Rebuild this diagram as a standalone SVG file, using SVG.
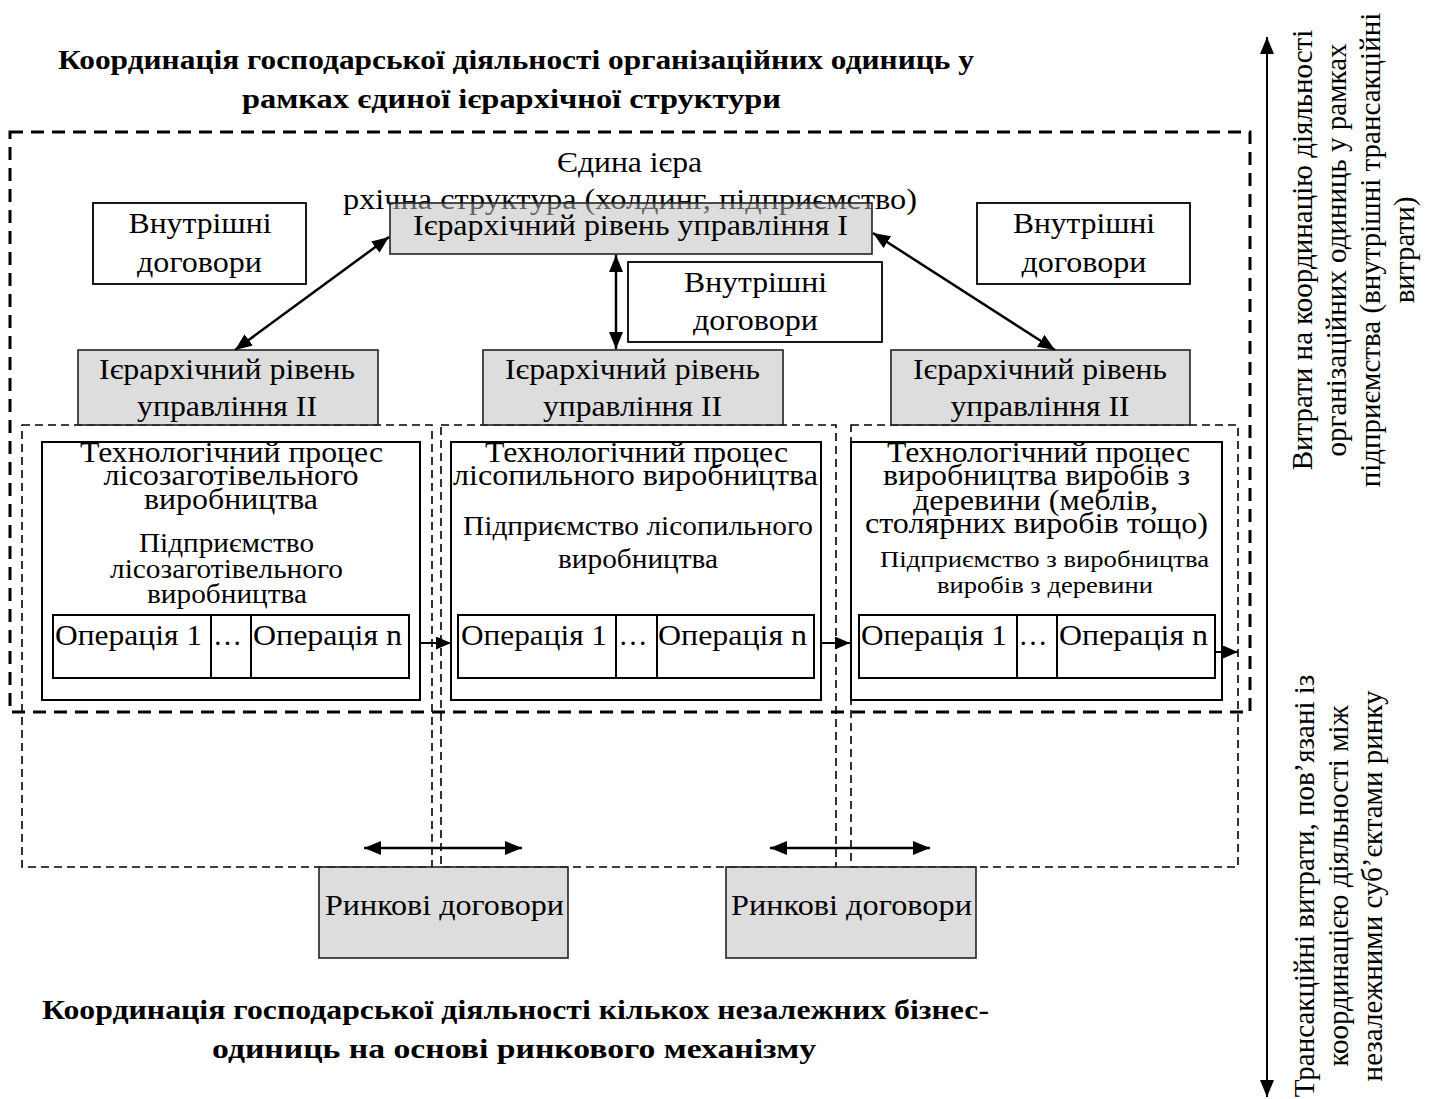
<svg xmlns="http://www.w3.org/2000/svg" width="1437" height="1099" viewBox="0 0 1437 1099">
  <style>
    text { font-family: "Liberation Serif", "Times New Roman", serif; fill: #000; text-anchor: middle; }
    .t { font-size: 29px; }
    .s { font-size: 26.5px; }
    .xs { font-size: 24px; }
    .h { font-size: 28px; font-weight: bold; }
    .box { fill: #fff; stroke: #000; stroke-width: 1.8; }
    .grey { fill: #bcbcbc; fill-opacity: 0.5; stroke: #222; stroke-width: 1.6; }
    .proc { fill: none; stroke: #000; stroke-width: 2; }
    .zone { fill: none; stroke: #000; stroke-width: 3; stroke-dasharray: 13 8; }
    .unit { fill: none; stroke: #000; stroke-width: 1.6; stroke-dasharray: 8 5; }
    .link { stroke: #000; stroke-width: 2.5; fill: none; }
    .flow { stroke: #000; stroke-width: 2; fill: none; }
  </style>
  <defs>
    <marker id="head" markerUnits="userSpaceOnUse" markerWidth="18" markerHeight="14" refX="17" refY="7" orient="auto-start-reverse">
      <path d="M0,0 L17,7 L0,14 z" fill="#000"/>
    </marker>
    <marker id="small" markerUnits="userSpaceOnUse" markerWidth="16" markerHeight="13" refX="15" refY="6.5" orient="auto">
      <path d="M0,0 L15,6.5 L0,13 z" fill="#000"/>
    </marker>
  </defs>

  <!-- headings -->
  <g id="heading-top">
    <text class="h" x="516" y="69" textLength="916" lengthAdjust="spacingAndGlyphs">Координація господарської діяльності організаційних одиниць у</text>
    <text class="h" x="511.5" y="108" textLength="539" lengthAdjust="spacingAndGlyphs">рамках єдиної ієрархічної структури</text>
  </g>
  <g id="heading-bottom">
    <text class="h" x="515.5" y="1019" textLength="947" lengthAdjust="spacingAndGlyphs">Координація господарської діяльності кількох незалежних бізнес-</text>
    <text class="h" x="514" y="1058" textLength="604" lengthAdjust="spacingAndGlyphs">одиниць на основі ринкового механізму</text>
  </g>

  <!-- hierarchy boundary and enterprise zones -->
  <g id="hierarchy-zone">
    <rect class="zone" x="10" y="132" width="1240" height="580"/>
    <text class="t" x="629.5" y="172" textLength="145" lengthAdjust="spacingAndGlyphs">Єдина ієра</text>
    <text class="t" x="630" y="209" textLength="574" lengthAdjust="spacingAndGlyphs">рхічна структура (холдинг, підприємство)</text>
  </g>
  <g id="enterprise-zones">
    <rect class="unit" x="22" y="425" width="410" height="442"/>
    <rect class="unit" x="441" y="425" width="395" height="442"/>
    <rect class="unit" x="851" y="425" width="387" height="442"/>
  </g>

  <!-- management level I -->
  <g id="level-1">
    <rect class="grey" x="390" y="203" width="482" height="51"/>
    <text class="t" x="630.5" y="235" textLength="435" lengthAdjust="spacingAndGlyphs">Ієрархічний рівень управління I</text>
  </g>

  <!-- internal contracts -->
  <g id="internal-left">
    <rect class="box" x="93" y="203" width="213" height="81"/>
    <text class="t" x="200" y="233" textLength="143" lengthAdjust="spacingAndGlyphs">Внутрішні</text>
    <text class="t" x="199.5" y="272" textLength="125" lengthAdjust="spacingAndGlyphs">договори</text>
  </g>
  <g id="internal-middle">
    <rect class="box" x="628" y="262" width="254" height="80"/>
    <text class="t" x="755.5" y="292" textLength="143" lengthAdjust="spacingAndGlyphs">Внутрішні</text>
    <text class="t" x="755.5" y="330" textLength="125" lengthAdjust="spacingAndGlyphs">договори</text>
  </g>
  <g id="internal-right">
    <rect class="box" x="977" y="203" width="213" height="81"/>
    <text class="t" x="1084" y="233" textLength="142" lengthAdjust="spacingAndGlyphs">Внутрішні</text>
    <text class="t" x="1084" y="272" textLength="125" lengthAdjust="spacingAndGlyphs">договори</text>
  </g>

  <!-- management level II -->
  <g id="level-2-left">
    <rect class="grey" x="78" y="350" width="300" height="75"/>
    <text class="t" x="227" y="379" textLength="256" lengthAdjust="spacingAndGlyphs">Ієрархічний рівень</text>
    <text class="t" x="227" y="416" textLength="180" lengthAdjust="spacingAndGlyphs">управління II</text>
  </g>
  <g id="level-2-middle">
    <rect class="grey" x="483" y="350" width="300" height="75"/>
    <text class="t" x="632.5" y="379" textLength="255" lengthAdjust="spacingAndGlyphs">Ієрархічний рівень</text>
    <text class="t" x="632.5" y="416" textLength="179" lengthAdjust="spacingAndGlyphs">управління II</text>
  </g>
  <g id="level-2-right">
    <rect class="grey" x="891" y="350" width="299" height="75"/>
    <text class="t" x="1040" y="379" textLength="254" lengthAdjust="spacingAndGlyphs">Ієрархічний рівень</text>
    <text class="t" x="1040" y="416" textLength="179" lengthAdjust="spacingAndGlyphs">управління II</text>
  </g>

  <!-- technological processes -->
  <g id="process-logging">
    <rect class="proc" x="42" y="442" width="378" height="258"/>
    <text class="t" x="231.5" y="462" textLength="303" lengthAdjust="spacingAndGlyphs">Технологічний процес</text>
    <text class="t" x="231" y="485" textLength="255" lengthAdjust="spacingAndGlyphs">лісозаготівельного</text>
    <text class="t" x="231" y="509" textLength="174" lengthAdjust="spacingAndGlyphs">виробництва</text>
    <text class="s" x="226.5" y="552" textLength="175" lengthAdjust="spacingAndGlyphs">Підприємство</text>
    <text class="s" x="226.5" y="578" textLength="233" lengthAdjust="spacingAndGlyphs">лісозаготівельного</text>
    <text class="s" x="227" y="603" textLength="160" lengthAdjust="spacingAndGlyphs">виробництва</text>
    <rect class="proc" x="53" y="615" width="356" height="63"/>
    <line class="proc" x1="211" y1="615" x2="211" y2="678"/>
    <line class="proc" x1="251" y1="615" x2="251" y2="678"/>
    <text class="t" x="128.5" y="645" textLength="147" lengthAdjust="spacingAndGlyphs">Операція 1</text>
    <text class="t" x="227.5" y="645">…</text>
    <text class="t" x="327.5" y="645" textLength="149" lengthAdjust="spacingAndGlyphs">Операція n</text>
  </g>
  <g id="process-sawmill">
    <rect class="proc" x="451" y="442" width="370" height="258"/>
    <text class="t" x="636.5" y="462" textLength="303" lengthAdjust="spacingAndGlyphs">Технологічний процес</text>
    <text class="t" x="635.5" y="485" textLength="365" lengthAdjust="spacingAndGlyphs">лісопильного виробництва</text>
    <text class="s" x="638" y="535" textLength="350" lengthAdjust="spacingAndGlyphs">Підприємство лісопильного</text>
    <text class="s" x="638" y="568" textLength="160" lengthAdjust="spacingAndGlyphs">виробництва</text>
    <rect class="proc" x="458" y="615" width="356" height="63"/>
    <line class="proc" x1="616" y1="615" x2="616" y2="678"/>
    <line class="proc" x1="657" y1="615" x2="657" y2="678"/>
    <text class="t" x="534" y="645" textLength="146" lengthAdjust="spacingAndGlyphs">Операція 1</text>
    <text class="t" x="633" y="645">…</text>
    <text class="t" x="732.5" y="645" textLength="149" lengthAdjust="spacingAndGlyphs">Операція n</text>
  </g>
  <g id="process-woodwork">
    <rect class="proc" x="851" y="442" width="371" height="258"/>
    <text class="t" x="1038.5" y="462" textLength="303" lengthAdjust="spacingAndGlyphs">Технологічний процес</text>
    <text class="t" x="1036.5" y="485" textLength="307" lengthAdjust="spacingAndGlyphs">виробництва виробів з</text>
    <text class="t" x="1035.5" y="510" textLength="245" lengthAdjust="spacingAndGlyphs">деревини (меблів,</text>
    <text class="t" x="1036.5" y="533" textLength="343" lengthAdjust="spacingAndGlyphs">столярних виробів тощо)</text>
    <text class="xs" x="1044.5" y="567" textLength="329" lengthAdjust="spacingAndGlyphs">Підприємство з виробництва</text>
    <text class="xs" x="1045" y="593" textLength="216" lengthAdjust="spacingAndGlyphs">виробів з деревини</text>
    <rect class="proc" x="859" y="615" width="356" height="63"/>
    <line class="proc" x1="1017" y1="615" x2="1017" y2="678"/>
    <line class="proc" x1="1057" y1="615" x2="1057" y2="678"/>
    <text class="t" x="934" y="645" textLength="146" lengthAdjust="spacingAndGlyphs">Операція 1</text>
    <text class="t" x="1033" y="645">…</text>
    <text class="t" x="1133.5" y="645" textLength="149" lengthAdjust="spacingAndGlyphs">Операція n</text>
  </g>

  <!-- market contracts -->
  <g id="market-left">
    <rect class="grey" x="319" y="867" width="249" height="91"/>
    <text class="t" x="444.5" y="915" textLength="239" lengthAdjust="spacingAndGlyphs">Ринкові договори</text>
  </g>
  <g id="market-right">
    <rect class="grey" x="726" y="867" width="250" height="91"/>
    <text class="t" x="851.5" y="915" textLength="241" lengthAdjust="spacingAndGlyphs">Ринкові договори</text>
  </g>

  <!-- cost axis labels -->
  <g id="axis-internal-costs">
    <text class="t" transform="translate(1312,250) rotate(-90)">Витрати на координацію діяльності</text>
    <text class="t" transform="translate(1346,250) rotate(-90)">організаційних одиниць у рамках</text>
    <text class="t" transform="translate(1380,250) rotate(-90)">підприємства (внутрішні трансакційні</text>
    <text class="t" transform="translate(1414,250) rotate(-90)">витрати)</text>
  </g>
  <g id="axis-market-costs">
    <text class="t" transform="translate(1314,886) rotate(-90)">Трансакційні витрати, пов’язані із</text>
    <text class="t" transform="translate(1348,886) rotate(-90)">координацією діяльності між</text>
    <text class="t" transform="translate(1382,886) rotate(-90)">незалежними суб’єктами ринку</text>
  </g>

  <!-- connectors -->
  <g id="connectors">
    <line class="link" x1="389" y1="237" x2="235" y2="350" marker-start="url(#head)" marker-end="url(#head)"/>
    <line class="link" x1="616" y1="255" x2="616" y2="349" marker-start="url(#head)" marker-end="url(#head)"/>
    <line class="link" x1="873" y1="233" x2="1055" y2="350" marker-start="url(#head)" marker-end="url(#head)"/>
    <line class="flow" x1="420" y1="643" x2="451" y2="643" marker-end="url(#small)"/>
    <line class="flow" x1="821" y1="643" x2="850" y2="643" marker-end="url(#small)"/>
    <line class="flow" x1="1215" y1="652" x2="1238" y2="652" marker-end="url(#small)"/>
    <line class="link" x1="364" y1="848" x2="522" y2="848" marker-start="url(#head)" marker-end="url(#head)"/>
    <line class="link" x1="770" y1="848" x2="930" y2="848" marker-start="url(#head)" marker-end="url(#head)"/>
    <line class="flow" x1="1267" y1="37" x2="1267" y2="1097" marker-start="url(#head)" marker-end="url(#head)"/>
  </g>
</svg>
